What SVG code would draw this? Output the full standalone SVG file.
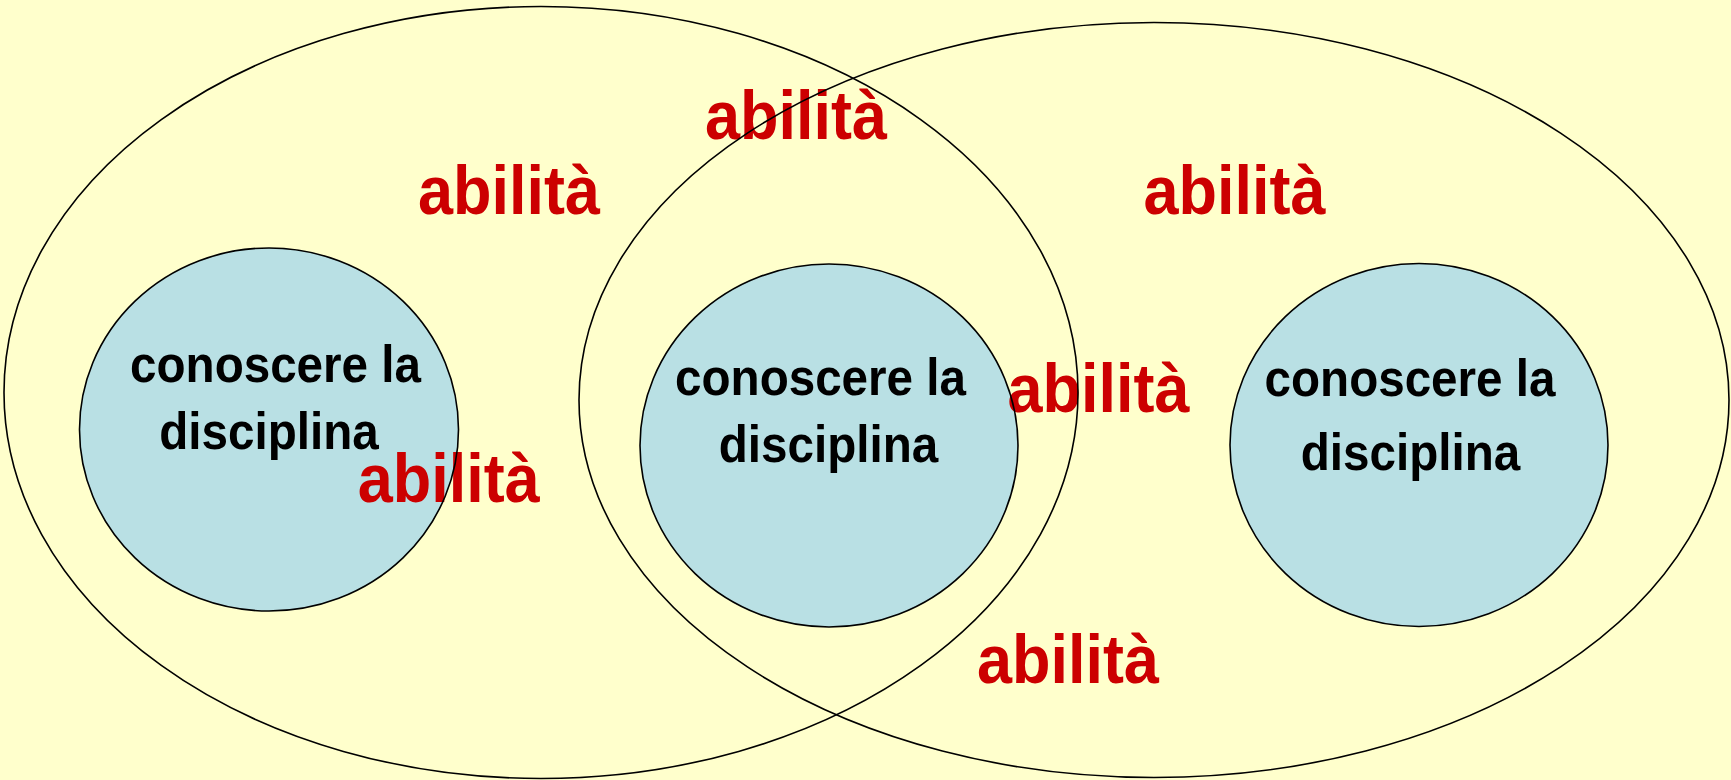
<svg xmlns="http://www.w3.org/2000/svg" xmlns:xlink="http://www.w3.org/1999/xlink" width="1731" height="780" viewBox="0 0 1731 780">
<style>
.bg{fill:#FFFFCC}
.outer{fill:none;stroke:#000;stroke-width:1.6}
.inner{fill:#B9E0E4}
.line{fill:none;stroke:#000;stroke-width:1.6}
.k{font-family:"Liberation Sans",Arial,sans-serif;font-weight:bold;font-size:47.6px;fill:#000;text-anchor:middle}
.r{font-family:"Liberation Sans",Arial,sans-serif;font-weight:bold;font-size:63px;fill:#CC0000;text-anchor:middle}
</style>
<defs>
<ellipse id="c1" cx="269" cy="429.5" rx="189.5" ry="181.5"/>
<ellipse id="c2" cx="829" cy="445.5" rx="189" ry="181.5"/>
<ellipse id="c3" cx="1419" cy="445" rx="189" ry="181.5"/>
</defs>
<rect class="bg" x="0" y="0" width="1731" height="780"/>
<g id="fills">
<use xlink:href="#c1" class="inner"/>
<use xlink:href="#c2" class="inner"/>
<use xlink:href="#c3" class="inner"/>
</g>
<g id="node-left">
<text class="k" transform="translate(275.5,382) scale(1,1.1)">conoscere la</text>
<text class="k" transform="translate(269,448.5) scale(1,1.1)">disciplina</text>
</g>
<g id="node-middle">
<text class="k" transform="translate(820.5,395) scale(1,1.1)">conoscere la</text>
<text class="k" transform="translate(828.5,462) scale(1,1.1)">disciplina</text>
</g>
<g id="node-right">
<text class="k" transform="translate(1410,396) scale(1,1.1)">conoscere la</text>
<text class="k" transform="translate(1410.5,470) scale(1,1.1)">disciplina</text>
</g>
<g id="labels">
<text class="r" transform="translate(796,138.5) scale(1,1.1)">abilità</text>
<text class="r" transform="translate(509,213.5) scale(1,1.1)">abilità</text>
<text class="r" transform="translate(1234.5,213.5) scale(1,1.1)">abilità</text>
<text class="r" transform="translate(1098.5,411.5) scale(1,1.1)">abilità</text>
<text class="r" transform="translate(448.7,501.5) scale(1,1.1)">abilità</text>
<text class="r" transform="translate(1068,683) scale(1,1.1)">abilità</text>
</g>
<g id="outlines">
<ellipse id="big-left" class="outer" cx="541" cy="392.5" rx="537" ry="386"/>
<ellipse id="big-right" class="outer" cx="1154" cy="400" rx="575" ry="377.5"/>
<use xlink:href="#c1" class="line"/>
<use xlink:href="#c2" class="line"/>
<use xlink:href="#c3" class="line"/>
</g>
</svg>
